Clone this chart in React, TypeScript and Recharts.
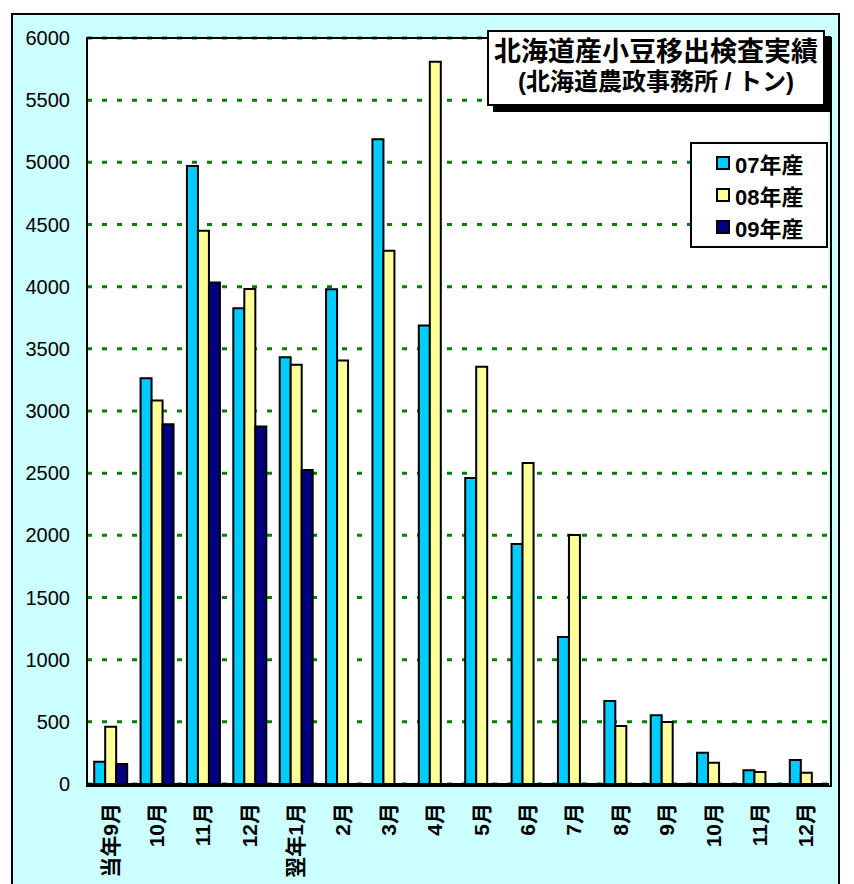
import { BarChart, Bar, XAxis, YAxis, CartesianGrid } from "recharts";

const months = ["当年9月", "10月", "11月", "12月", "翌年1月", "2月", "3月", "4月", "5月", "6月", "7月", "8月", "9月", "10月", "11月", "12月"];
const crop07 = [179, 3264, 4970, 3827, 3433, 3980, 5186, 3687, 2462, 1931, 1183, 668, 553, 252, 110, 193];
const crop08 = [461, 3084, 4450, 3982, 3371, 3406, 4288, 5808, 3355, 2582, 2003, 467, 499, 171, 97, 91];
const crop09 = [161, 2894, 4033, 2875, 2526, null, null, null, null, null, null, null, null, null, null, null];
const yTicks = [0, 500, 1000, 1500, 2000, 2500, 3000, 3500, 4000, 4500, 5000, 5500, 6000];

const seriesInfo = [
  { key: "c07", label: "07年産", color: "#00CCFF" },
  { key: "c08", label: "08年産", color: "#FFFF99" },
  { key: "c09", label: "09年産", color: "#000080" },
];

const data = months.map((m, i) => ({ month: m, c07: crop07[i], c08: crop08[i], c09: crop09[i] }));

const font = '"Liberation Sans", Arial, "Noto Sans CJK JP", sans-serif';

const MonthTick = ({ x, y, payload }: any) => (
  <text
    x={x}
    y={y}
    transform={`rotate(-90 ${x} ${y})`}
    textAnchor="end"
    dominantBaseline="central"
    fontFamily={font}
    fontSize={21}
    fontWeight="bold"
    fill="#000"
  >
    {payload.value}
  </text>
);

export default function App() {
  return (
    <div style={{ position: "absolute", left: 0, top: 0, width: 854, height: 884, background: "#fff", overflow: "hidden", fontFamily: font }}>
      <div style={{ position: "absolute", left: 11, top: 13, width: 825, height: 880, border: "2px solid #000", background: "#CCFFFF" }} />
      <div style={{ position: "absolute", left: 0, top: 0 }}>
        <BarChart width={854} height={884} data={data} margin={{ top: 38, right: 25, bottom: 0, left: 12 }} barCategoryGap="15.5%" barGap={0}>
          <CartesianGrid vertical={false} fill="#fff" stroke="#008000" strokeWidth={3} strokeDasharray="5 10" />
          <XAxis dataKey="month" height={100} tick={<MonthTick />} tickLine={false} tickSize={8} tickMargin={11} axisLine={{ stroke: "#000", strokeWidth: 2 }} interval={0} />
          <YAxis
            domain={[0, 6000]}
            ticks={yTicks}
            width={75}
            tickLine={false}
            tickSize={8}
            tickMargin={9}
            axisLine={{ stroke: "#000", strokeWidth: 2 }}
            tick={{ fontSize: 20, fill: "#000", fontFamily: font }}
          />
          {seriesInfo.map(s => (
            <Bar key={s.key} dataKey={s.key} fill={s.color} stroke="#000" strokeWidth={2} isAnimationActive={false} />
          ))}
        </BarChart>
      </div>
      {/* plot frame */}
      <div style={{ position: "absolute", left: 86, top: 37, width: 742, height: 746, border: "2px solid #000", pointerEvents: "none" }} />
      {/* title */}
      <div style={{ position: "absolute", left: 487, top: 30, width: 334, height: 67, border: "2px solid #000", background: "#fff", boxShadow: "6px 6px 0 #000", textAlign: "center", fontWeight: "bold", lineHeight: "30px", paddingTop: 5, boxSizing: "content-box" }}>
        <div style={{ fontSize: 27, height: 30 }}>北海道産小豆移出検査実績</div>
        <div style={{ fontSize: 24, height: 30 }}>(北海道農政事務所 / トン)</div>
      </div>
      {/* legend */}
      <div style={{ position: "absolute", left: 690, top: 142, width: 134, height: 99, border: "2px solid #000", background: "#fff", paddingTop: 3 }}>
        {seriesInfo.map(s => (
          <div key={s.key} style={{ display: "flex", alignItems: "center", height: 32, paddingLeft: 24 }}>
            <span style={{ width: 10, height: 10, border: "2px solid #000", background: s.color, marginRight: 5 }} />
            <span style={{ fontSize: 22, fontWeight: "bold" }}>{s.label}</span>
          </div>
        ))}
      </div>
    </div>
  );
}
